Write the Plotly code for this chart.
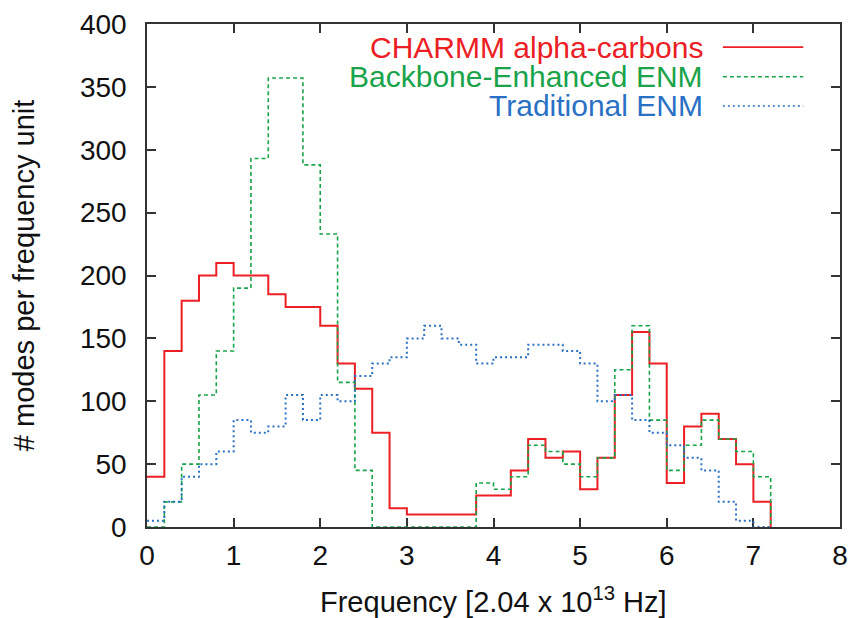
import numpy as np
import plotly.graph_objects as go

# bin starts (width 0.2) in units of 2.04e13 Hz
bin_starts = [round(0.2 * i, 1) for i in range(36)]
bin_end = 7.2

charmm = [40, 140, 180, 200, 210, 200, 200, 185, 175, 175, 160, 130, 110, 75, 15, 10, 10, 10, 10,
          25, 25, 45, 70, 55, 60, 30, 55, 105, 155, 130, 35, 80, 90, 70, 50, 20]
backbone = [0, 20, 50, 105, 140, 190, 293, 357, 357, 288, 233, 115, 45, 0, 0, 0, 0, 0, 0,
            35, 30, 40, 65, 60, 50, 40, 55, 125, 160, 85, 45, 65, 85, 70, 60, 40]
traditional = [5, 20, 40, 50, 60, 85, 75, 80, 105, 85, 105, 100, 120, 130, 135, 150, 160, 150, 145,
               130, 135, 135, 145, 145, 140, 130, 100, 105, 85, 75, 65, 55, 45, 20, 5, 0]

series_names = ["CHARMM alpha-carbons", "Backbone-Enhanced ENM", "Traditional ENM"]
x_ticks = [0, 1, 2, 3, 4, 5, 6, 7, 8]
y_ticks = [0, 50, 100, 150, 200, 250, 300, 350, 400]

RED = "#ec2024"
GREEN = "#1aa34a"
BLUE = "#2a70c4"
FONT = "Liberation Sans, Arial, Helvetica, sans-serif"

fig = go.Figure()
xs = bin_starts + [bin_end]
styles = [(charmm, RED, "solid", 2.0), (backbone, GREEN, "4px,3px", 1.6), (traditional, BLUE, "2px,3px", 2.0)]
for (vals, col, dash, w), name in zip(styles, series_names):
    fig.add_trace(go.Scatter(x=xs, y=vals + [0], mode="lines", line_shape="hv",
                             line=dict(color=col, dash=dash, width=w), name=name,
                             showlegend=False))

axis_common = dict(showline=True, linecolor="#333333", linewidth=1.5, mirror="ticks",
                   ticks="inside", ticklen=9, tickwidth=1.5, tickcolor="#333333",
                   showgrid=False, zeroline=False, layer="below traces", automargin=False,
                   tickfont=dict(family=FONT, size=28, color="#111111"))

fig.update_xaxes(range=[0, 8], tickvals=x_ticks, ticklabelstandoff=3, **axis_common)
fig.update_yaxes(range=[0, 400], tickvals=y_ticks, ticklabelstandoff=13, **axis_common)

# legend drawn as text + sample lines (text left of sample, as in the original)
leg_y = [0.954, 0.895, 0.837]
leg_cols = [RED, GREEN, BLUE]
leg_dash = ["solid", "4px,3px", "2px,3px"]
for name, yy, col, dash in zip(series_names, leg_y, leg_cols, leg_dash):
    fig.add_annotation(x=0.805, y=yy, xref="paper", yref="paper", text=name, showarrow=False,
                       xanchor="right", yanchor="middle",
                       font=dict(family=FONT, size=30, color=col))
    fig.add_shape(type="line", xref="paper", yref="paper", x0=0.831, x1=0.947, y0=yy, y1=yy,
                  line=dict(color=col, dash=dash, width=1.6))

fig.add_annotation(x=0.5, y=-0.146, xref="paper", yref="paper",
                   text="Frequency [2.04 x 10<sup>13</sup> Hz]", showarrow=False,
                   xanchor="center", yanchor="middle",
                   font=dict(family=FONT, size=29, color="#111111"))
fig.add_annotation(x=-0.178, y=0.5, xref="paper", yref="paper",
                   text="# modes per frequency unit", showarrow=False, textangle=-90,
                   xanchor="center", yanchor="middle",
                   font=dict(family=FONT, size=29, color="#111111"))

fig.update_layout(width=852, height=618, margin=dict(l=147, r=12, t=24, b=91),
                  plot_bgcolor="white", paper_bgcolor="white", showlegend=False)

fig.write_html("out.html", config={"displayModeBar": False},
               post_script="document.body.style.margin='0';")
